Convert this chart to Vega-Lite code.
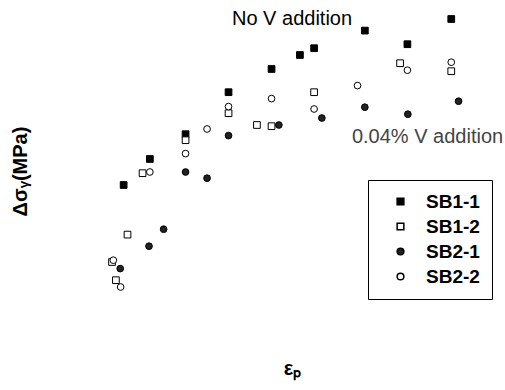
{
  "$schema": "https://vega.github.io/schema/vega-lite/v6.json",
  "width": 405,
  "height": 390,
  "autosize": "none",
  "padding": {"left": 100, "top": 0, "right": 0, "bottom": 0},
  "background": "white",
  "config": {
    "view": {"stroke": null},
    "font": "Liberation Sans"
  },
  "datasets": {
    "pts": [
      {"series": "SB1-1", "eps": 0.0055, "ds": 62.5},
      {"series": "SB1-1", "eps": 0.0116, "ds": 75.5},
      {"series": "SB1-1", "eps": 0.0199, "ds": 87.9},
      {"series": "SB1-1", "eps": 0.0299, "ds": 108.9},
      {"series": "SB1-1", "eps": 0.0399, "ds": 120.5},
      {"series": "SB1-1", "eps": 0.0465, "ds": 127.5},
      {"series": "SB1-1", "eps": 0.0498, "ds": 130.9},
      {"series": "SB1-1", "eps": 0.0616, "ds": 139.7},
      {"series": "SB1-1", "eps": 0.0715, "ds": 132.9},
      {"series": "SB1-1", "eps": 0.0817, "ds": 145.5},
      {"series": "SB1-2", "eps": 0.0064, "ds": 37.7},
      {"series": "SB1-2", "eps": 0.0028, "ds": 24.0},
      {"series": "SB1-2", "eps": 0.0037, "ds": 14.9},
      {"series": "SB1-2", "eps": 0.0099, "ds": 68.4},
      {"series": "SB1-2", "eps": 0.0199, "ds": 84.9},
      {"series": "SB1-2", "eps": 0.0299, "ds": 98.4},
      {"series": "SB1-2", "eps": 0.0365, "ds": 92.5},
      {"series": "SB1-2", "eps": 0.0399, "ds": 91.9},
      {"series": "SB1-2", "eps": 0.0498, "ds": 108.9},
      {"series": "SB1-2", "eps": 0.0698, "ds": 123.4},
      {"series": "SB1-2", "eps": 0.0817, "ds": 119.4},
      {"series": "SB2-1", "eps": 0.0047, "ds": 20.7},
      {"series": "SB2-1", "eps": 0.0114, "ds": 31.9},
      {"series": "SB2-1", "eps": 0.0148, "ds": 40.4},
      {"series": "SB2-1", "eps": 0.0199, "ds": 69.0},
      {"series": "SB2-1", "eps": 0.0249, "ds": 65.9},
      {"series": "SB2-1", "eps": 0.0299, "ds": 87.2},
      {"series": "SB2-1", "eps": 0.0416, "ds": 92.5},
      {"series": "SB2-1", "eps": 0.0516, "ds": 96.0},
      {"series": "SB2-1", "eps": 0.0616, "ds": 101.4},
      {"series": "SB2-1", "eps": 0.0716, "ds": 97.9},
      {"series": "SB2-1", "eps": 0.0834, "ds": 104.4},
      {"series": "SB2-2", "eps": 0.0031, "ds": 24.9},
      {"series": "SB2-2", "eps": 0.0048, "ds": 11.5},
      {"series": "SB2-2", "eps": 0.0116, "ds": 69.0},
      {"series": "SB2-2", "eps": 0.0199, "ds": 78.2},
      {"series": "SB2-2", "eps": 0.0249, "ds": 90.5},
      {"series": "SB2-2", "eps": 0.0299, "ds": 101.7},
      {"series": "SB2-2", "eps": 0.0399, "ds": 105.7},
      {"series": "SB2-2", "eps": 0.0498, "ds": 100.5},
      {"series": "SB2-2", "eps": 0.0599, "ds": 112.2},
      {"series": "SB2-2", "eps": 0.0715, "ds": 119.9},
      {"series": "SB2-2", "eps": 0.0817, "ds": 123.9}
    ],
    "notes": [
      {"label": "No V addition", "eps": 0.0307, "ds": 145.3, "tone": "a"},
      {"label": "0.04% V addition", "eps": 0.0586, "ds": 86.5, "tone": "b"}
    ]
  },
  "layer": [
    {
      "data": {"name": "pts"},
      "mark": {"type": "point", "filled": true, "strokeWidth": 1, "opacity": 1},
      "encoding": {
        "x": {
          "field": "eps", "type": "quantitative",
          "scale": {"domain": [0, 0.0942], "nice": false, "zero": false},
          "axis": {
            "title": "εₚ", "domain": false, "ticks": false, "labels": false, "grid": false,
            "titleFontSize": 20, "titleFontWeight": "bold", "titleColor": "black",
            "titleX": 192, "titleY": -22, "titleAlign": "center", "titleBaseline": "middle"
          }
        },
        "y": {
          "field": "ds", "type": "quantitative",
          "scale": {"domain": [-40, 155], "nice": false, "zero": false},
          "axis": {
            "title": "Δσᵧ(MPa)", "domain": false, "ticks": false, "labels": false, "grid": false,
            "titleFontSize": 20, "titleFontWeight": "bold", "titleColor": "black",
            "titleX": -80, "titleY": 171, "titleAlign": "center", "titleBaseline": "middle", "titleAngle": -90
          }
        },
        "shape": {
          "field": "series", "type": "nominal",
          "scale": {"domain": ["SB1-1", "SB1-2", "SB2-1", "SB2-2"], "range": ["square", "square", "circle", "circle"]},
          "legend": {
            "title": null, "orient": "none", "legendX": 268, "legendY": 180,
            "strokeColor": "black", "fillColor": "white", "padding": 12,
            "symbolOffset": 11, "labelOffset": 16, "rowPadding": 5,
            "labelFontSize": 19, "labelFontWeight": "bold", "labelColor": "black",
            "labelExpr": "datum.label + '\u2003'",
            "symbolSize": 45,
            "encode": {"symbols": {"update": {"stroke": {"value": "black"}, "strokeWidth": {"value": 1}}}}
          }
        },
        "fill": {
          "field": "series", "type": "nominal",
          "scale": {"domain": ["SB1-1", "SB1-2", "SB2-1", "SB2-2"], "range": ["black", "white", "#222222", "white"]},
          "legend": {
            "title": null, "orient": "none", "legendX": 268, "legendY": 180,
            "strokeColor": "black", "fillColor": "white", "padding": 12,
            "symbolOffset": 11, "labelOffset": 16, "rowPadding": 5,
            "labelFontSize": 19, "labelFontWeight": "bold", "labelColor": "black",
            "labelExpr": "datum.label + '\u2003'",
            "symbolSize": 45,
            "encode": {"symbols": {"update": {"stroke": {"value": "black"}, "strokeWidth": {"value": 1}}}}
          }
        },
        "stroke": {"value": "black"},
        "size": {"value": 45}
      }
    },
    {
      "data": {"name": "notes"},
      "mark": {"type": "text", "align": "left", "baseline": "middle", "fontSize": 20, "font": "Liberation Sans"},
      "encoding": {
        "x": {"field": "eps", "type": "quantitative"},
        "y": {"field": "ds", "type": "quantitative"},
        "text": {"field": "label"},
        "color": {"field": "tone", "type": "nominal", "scale": {"domain": ["a", "b"], "range": ["black", "#444444"]}, "legend": null}
      }
    }
  ]
}
